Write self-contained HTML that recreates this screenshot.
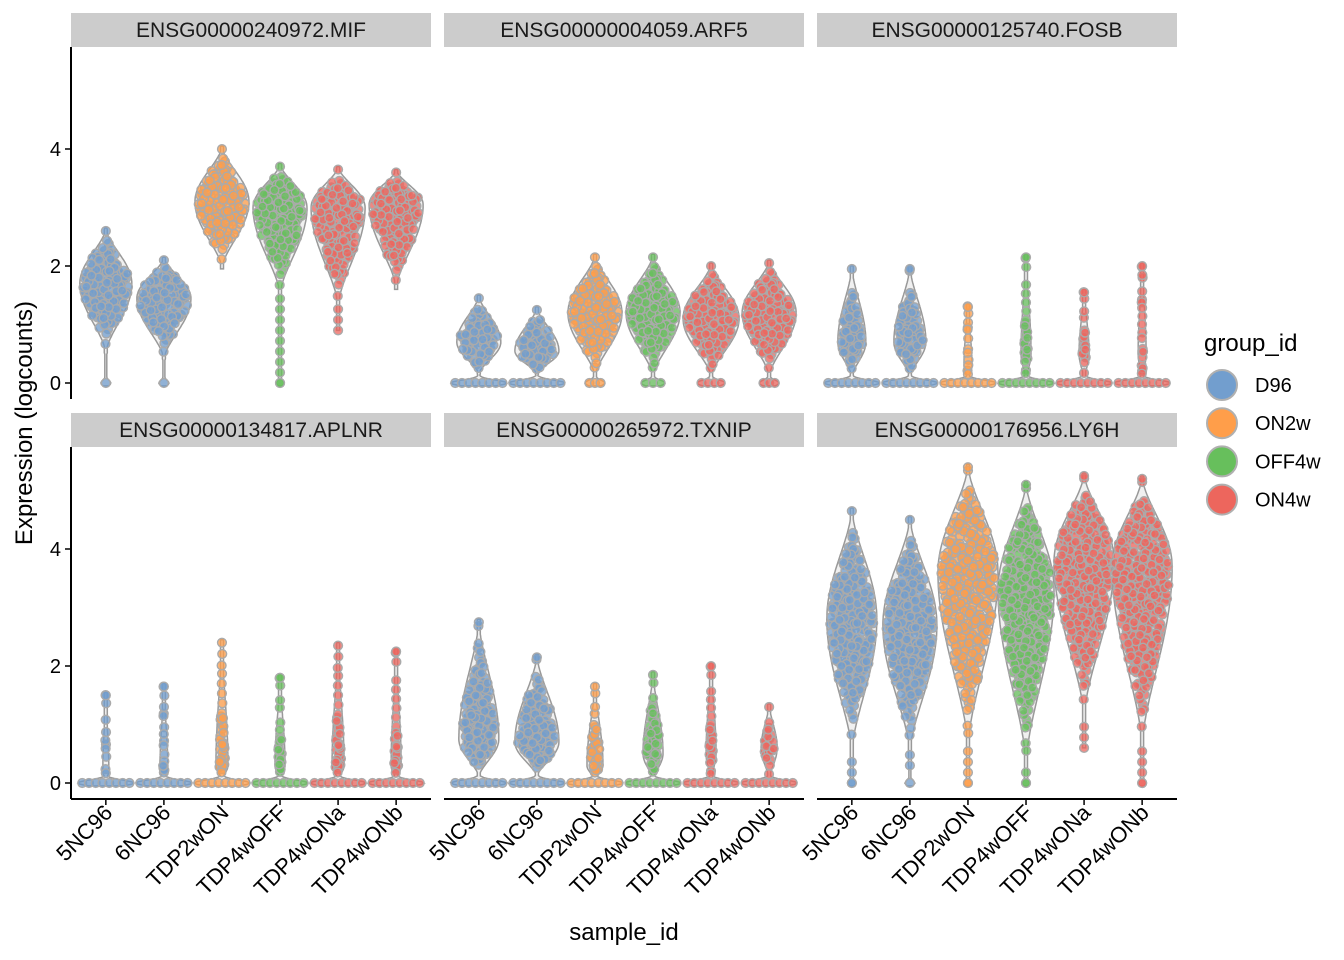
<!DOCTYPE html>
<html><head><meta charset="utf-8">
<style>
html,body{margin:0;padding:0;background:#fff;}
svg{display:block;font-family:"Liberation Sans",Arial,sans-serif;}
</style></head>
<body>
<svg id="chart" width="1344" height="960" viewBox="0 0 1344 960"></svg>
<script>
// ---- data ----
const samples = ["5NC96","6NC96","TDP2wON","TDP4wOFF","TDP4wONa","TDP4wONb"];
const sampleGroup = [0,0,1,2,3,3];
const groups = ["D96","ON2w","OFF4w","ON4w"];
const groupColors = ["#729ECE","#FF9E4A","#67BF5C","#ED665D"];
const genes = ["ENSG00000240972.MIF","ENSG00000004059.ARF5","ENSG00000125740.FOSB",
               "ENSG00000134817.APLNR","ENSG00000265972.TXNIP","ENSG00000176956.LY6H"];
const yTicks = [0,2,4];
// per gene, per sample: tail minimum, bulk low, mode, max, half-width (px at mode), zero row half-width
const violinMin = [
 [0.5,0.4,1.95,0.0,0.9,1.6],
 [0.15,0.15,0.1,0.1,0.1,0.1],
 [0.1,0.1,0.05,0.05,0.05,0.05],
 [0.05,0.05,0.05,0.05,0.05,0.05],
 [0.1,0.1,0.05,0.05,0.05,0.05],
 [0.0,0.3,0.0,0.0,0.6,0.0]];
const violinLo = [
 [0.5,0.4,1.95,1.5,1.3,1.6],
 [0.15,0.15,0.1,0.1,0.1,0.1],
 [0.1,0.1,0.05,0.05,0.05,0.05],
 [0.05,0.05,0.05,0.05,0.05,0.05],
 [0.1,0.1,0.05,0.05,0.05,0.05],
 [0.5,0.5,0.6,0.3,1.1,0.6]];
const violinMode = [
 [1.7,1.45,3.1,3.0,3.0,3.05],
 [0.7,0.55,1.2,1.2,1.1,1.2],
 [0.7,0.7,0.3,0.5,0.5,0.5],
 [0.2,0.2,0.3,0.3,0.3,0.3],
 [0.75,0.7,0.3,0.5,0.5,0.6],
 [2.8,2.7,3.6,3.3,3.8,3.7]];
const violinHi = [
 [2.65,2.15,4.05,3.75,3.7,3.65],
 [1.5,1.3,2.2,2.2,2.05,2.1],
 [2.0,2.0,1.35,2.2,1.6,2.05],
 [1.55,1.7,2.45,1.85,2.4,2.3],
 [2.8,2.2,1.7,1.9,2.05,1.35],
 [4.7,4.55,5.45,5.15,5.3,5.25]];
const violinWidth = [
 [26,27,27,27,27,27],
 [22,22,27,27,28,27],
 [14,16,4,5,5,4],
 [3,4,6,5,6,5],
 [20,22,8,10,5,8],
 [25,27,30,28,30,30]];
const zeroWidth = [
 [5,5,0,4,0,0],
 [28,28,10,12,14,10],
 [28,28,28,28,28,28],
 [28,28,28,28,28,28],
 [28,28,28,28,28,28],
 [4,5,4,4,0,4]];

// ---- layout ----
const NS="http://www.w3.org/2000/svg";
const svg=document.getElementById('chart');
function mk(tag,attrs,parent){const e=document.createElementNS(NS,tag);for(const k in attrs)e.setAttribute(k,attrs[k]);(parent||svg).appendChild(e);return e;}
const panelX=[71,444,817], panelW=360;
const panelTop=[47,447], panelH=352;
const unitPx=58.5;
function halton(i,b){let f=1,r=0;while(i>0){f/=b;r+=f*(i%b);i=Math.floor(i/b);}return r;}
function shapeW(y,lo,mode,hi,W){
  if(y<lo||y>hi)return 0;
  let t = y<=mode ? (mode-lo>0?(y-lo)/(mode-lo):1) : (hi-y)/(hi-mode);
  t=Math.max(0,Math.min(1,t));
  return W*Math.pow(Math.sin(t*Math.PI/2),1.6);
}
const PR=4.4;
function dot(parent,x,y,color){
  mk('circle',{cx:x,cy:y,r:PR,fill:color,'fill-opacity':0.75,stroke:'#aaa','stroke-width':1.4},parent);
}

genes.forEach((g,gi)=>{
  const col=gi%3,row=Math.floor(gi/3);
  const x0=panelX[col], top=panelTop[row];
  const y0=top+panelH-16;
  const ys=v=>y0-v*unitPx;
  const xs=i=>x0+58.06*(i+0.6);
  const pg=mk('g',{});
  
  
  const st=mk('rect',{x:x0,y:top-34,width:panelW,height:34,fill:'#CCCCCC'},pg);
  
  
  const stt=mk('text',{x:x0+panelW/2,y:top-10,'text-anchor':'middle','font-size':'21',fill:'#1a1a1a'},pg);
  stt.textContent=g;
  
  
  samples.forEach((s,si)=>{
    const mn=violinMin[gi][si],lo=violinLo[gi][si],mode=violinMode[gi][si],hi=violinHi[gi][si],W=violinWidth[gi][si],zw=zeroWidth[gi][si];
    const cx=xs(si);
    const wAt=v=>Math.max(shapeW(v,lo,mode,hi,W), zw*Math.exp(-Math.pow(v/0.07,2)), (v>=mn&&v<=hi)?1.5:0);
    const vmin = zw>0?-0.05:mn;
    const pts=[];const N=100;
    for(let k=0;k<=N;k++){const v=vmin+(hi-vmin)*k/N;pts.push([cx+Math.max(wAt(v),1),ys(v)]);}
    for(let k=N;k>=0;k--){const v=vmin+(hi-vmin)*k/N;pts.push([cx-Math.max(wAt(v),1),ys(v)]);}
    const vp=mk('path',{d:'M'+pts.map(p=>p[0].toFixed(1)+','+p[1].toFixed(1)).join('L')+'Z',fill:'#999','fill-opacity':0.15,stroke:'#999',"stroke-width":1.5},pg);
    
    
    const color=groupColors[sampleGroup[si]];
    const gp=mk('g',{},pg);
    
    
    if(zw>0){
      if(zw<=6) dot(gp,cx,y0,color);
      else { const n=Math.round((2*zw-2*PR)/7); for(let k=0;k<=n;k++) dot(gp,cx-zw+PR+k*(2*zw-2*PR)/n,y0,color); }
    }
    if(mn<lo){ for(let v=mn; v<lo; v+=0.18) dot(gp,cx,ys(v),color); }
    const area=W*(hi-lo)*unitPx*0.85;
    const n=Math.max(6,Math.round(area/22));
    let acc=0,i=1;
    while(acc<n && i<20000){
      const u=halton(i,2),v=halton(i,3);i++;
      const val=lo+(hi-lo)*u;
      const w=shapeW(val,lo,mode,hi,W)-3;
      const dx=(2*v-1)*W;
      if(Math.abs(dx)<=Math.max(w,0.5)){ dot(gp,cx+dx,ys(val),color); acc++; }
    }
    dot(gp,cx,ys(hi)+3,color);
  });
  if(col===0){
    const ax=mk('line',{x1:x0,y1:top,x2:x0,y2:top+panelH,stroke:'#000','stroke-width':2},pg);
    
    
    yTicks.forEach(t=>{
      mk('line',{x1:x0-6,x2:x0,y1:ys(t),y2:ys(t),stroke:'#000','stroke-width':1.5},pg);
      const tl=mk('text',{x:x0-10,y:ys(t)+7,'text-anchor':'end','font-size':'20',fill:'#000'},pg);
      tl.textContent=t;
      
      
    });
  }
  if(row===1){
    const ax=mk('line',{x1:x0,y1:top+panelH,x2:x0+panelW,y2:top+panelH,stroke:'#000','stroke-width':2},pg);
    
    
    samples.forEach((s,si)=>{
      const x=xs(si),yb=top+panelH;
      mk('line',{x1:x,x2:x,y1:yb,y2:yb+6,stroke:'#000','stroke-width':1.5},pg);
      const ax2=x+8, ay=yb+15;
      const tl=mk('text',{x:ax2,y:ay,'text-anchor':'end','font-size':'22',fill:'#000',transform:`rotate(-45 ${ax2} ${ay})`},pg);
      tl.textContent=s;
      
      
    });
  }
});
const yt=mk('text',{x:32,y:423,'text-anchor':'middle','font-size':'24',fill:'#000',transform:'rotate(-90 32 423)'});
yt.textContent='Expression (logcounts)';


const xt=mk('text',{x:624,y:940,'text-anchor':'middle','font-size':'24',fill:'#000'});
xt.textContent='sample_id';


const lg=mk('g',{});


const lt=mk('text',{x:1204,y:351,'font-size':'24',fill:'#000'},lg);
lt.textContent='group_id';


groups.forEach((gname,i)=>{
  const cy=385+i*38.2;
  const e=mk('g',{},lg);
  
  
  mk('circle',{cx:1222,cy:cy,r:15,fill:groupColors[i],stroke:'#b0b0b0','stroke-width':2},e);
  const t=mk('text',{x:1255,y:cy+7,'font-size':'20',fill:'#000'},e);
  t.textContent=gname;
});
</script>
</body></html>
